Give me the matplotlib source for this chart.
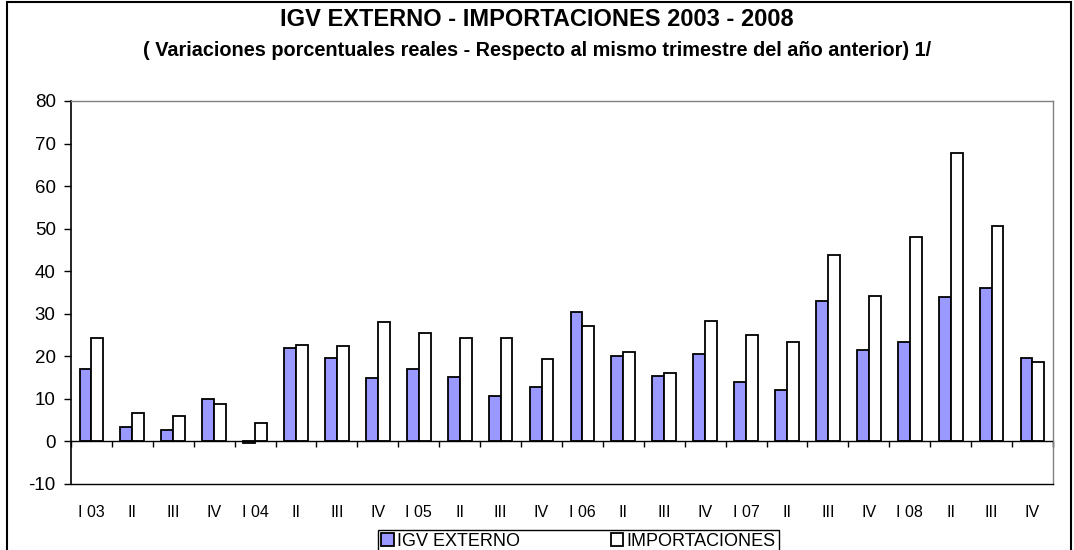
import matplotlib.pyplot as plt
import numpy as np
from matplotlib.patches import Rectangle

plt.rcParams['font.family'] = ['Liberation Sans', 'DejaVu Sans']
plt.rcParams['axes.unicode_minus'] = False

quarters = ["I 03", "II", "III", "IV", "I 04", "II", "III", "IV",
            "I 05", "II", "III", "IV", "I 06", "II", "III", "IV",
            "I 07", "II", "III", "IV", "I 08", "II", "III", "IV"]
igv_externo = [17.1, 3.4, 2.8, 10.0, -0.4, 21.9, 19.5, 15.0,
               17.1, 15.1, 10.6, 12.7, 30.3, 20.0, 15.3, 20.6,
               14.0, 12.2, 32.9, 21.5, 23.3, 33.9, 36.1, 19.5]
importaciones = [24.4, 6.7, 6.0, 8.9, 4.4, 22.7, 22.5, 28.0,
                 25.5, 24.4, 24.4, 19.3, 27.2, 20.9, 16.1, 28.4,
                 25.1, 23.3, 43.9, 34.2, 48.0, 67.8, 50.7, 18.6]

fig = plt.figure(figsize=(10.74, 5.5), dpi=100)
ax = fig.add_axes([0.0661, 0.12, 0.9143, 0.6964])

x = np.arange(len(quarters))
w = 0.29
ax.bar(x - w / 2, igv_externo, w, color="#9999FF", edgecolor="black",
       linewidth=1.3, label="IGV EXTERNO")
ax.bar(x + w / 2, importaciones, w, color="white", edgecolor="black",
       linewidth=1.3, label="IMPORTACIONES")

ax.set_xlim(-0.5, len(quarters) - 0.5)
ax.set_ylim(-10, 80)
ax.set_yticks(range(-10, 81, 10))
ax.tick_params(axis="y", direction="out", length=5, width=1, labelsize=13.5, pad=6)
ax.set_xticks(x)
ax.set_xticklabels(quarters)
ax.tick_params(axis="x", length=0, labelsize=11.5, pad=15)

# zero line with category boundary ticks
ax.axhline(0, color="black", linewidth=1, zorder=3)
sec = ax.secondary_xaxis(1 / 9)
sec.set_xticks(np.arange(-0.5, len(quarters), 1.0))
sec.tick_params(axis="x", direction="out", length=4, width=1, labelbottom=False)
sec.spines["bottom"].set_visible(False)

for s in ("top", "right"):
    ax.spines[s].set_color("#808080")
    ax.spines[s].set_linewidth(1)
ax.spines["left"].set_linewidth(1.2)
ax.spines["bottom"].set_linewidth(1)

fig.text(0.5, 0.965, "IGV EXTERNO - IMPORTACIONES 2003 - 2008",
         ha="center", va="center", fontsize=17, fontweight="bold")
fig.text(0.5, 0.908, "( Variaciones porcentuales reales - Respecto al mismo trimestre del año anterior) 1/",
         ha="center", va="center", fontsize=14.3, fontweight="bold")

fig.legend(loc="upper center", bbox_to_anchor=(0.5386, 0.036), ncol=2,
           fontsize=13, frameon=True, fancybox=False, edgecolor="black",
           handlelength=0.7, handleheight=0.7, handletextpad=0.2,
           columnspacing=5.0, borderpad=0.15, borderaxespad=0,
           framealpha=1)

# outer chart border
fig.patches.append(Rectangle((7 / 1074, -0.1), 1064 / 1074, 1.1 - 2 / 550,
                             transform=fig.transFigure, fill=False,
                             edgecolor="black", linewidth=1.5))

fig.savefig("out.png", dpi=100)
